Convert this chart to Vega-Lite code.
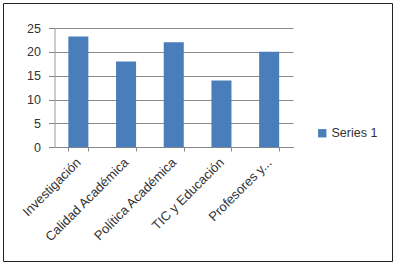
{
  "$schema": "https://vega.github.io/schema/vega-lite/v6.json",
  "width": 389,
  "height": 258,
  "autosize": {"type": "none"},
  "padding": {"left": 3, "top": 3, "right": 5, "bottom": 7},
  "background": "white",
  "config": {
    "view": {"stroke": "#222222", "strokeWidth": 1},
    "font": "Liberation Sans"
  },
  "data": {
    "values": [
      {"category": "Investigación", "value": 23.2, "series": "Series 1"},
      {"category": "Calidad Académica", "value": 18, "series": "Series 1"},
      {"category": "Política Académica", "value": 22, "series": "Series 1"},
      {"category": "TIC y Educación", "value": 14, "series": "Series 1"},
      {"category": "Profesores y...", "value": 20, "series": "Series 1"}
    ]
  },
  "mark": {"type": "bar"},
  "encoding": {
    "x": {
      "field": "category",
      "type": "nominal",
      "sort": null,
      "scale": {"range": [51.5, 290], "paddingInner": 0.58, "paddingOuter": 0.29},
      "axis": {
        "title": null,
        "offset": -114,
        "labelAngle": -45,
        "labelAlign": "right",
        "labelBaseline": "middle",
        "labelFontSize": 13,
        "labelColor": "#333333",
        "labelPadding": 9,
        "tickBand": "extent",
        "tickSize": 4,
        "tickColor": "#888888",
        "domainColor": "#888888",
        "grid": false
      }
    },
    "y": {
      "field": "value",
      "type": "quantitative",
      "scale": {"domain": [0, 25], "range": [144.3, 25], "nice": false},
      "axis": {
        "title": null,
        "offset": -51.5,
        "values": [0, 5, 10, 15, 20, 25],
        "labelFontSize": 12.5,
        "labelColor": "#333333",
        "labelPadding": 8,
        "tickSize": 6,
        "tickColor": "#888888",
        "domainColor": "#999999",
        "gridColor": "#8a8a8a",
        "gridOpacity": 1,
        "gridWidth": 1
      }
    },
    "color": {
      "field": "series",
      "type": "nominal",
      "scale": {"range": ["#4a7ebb"]},
      "legend": {
        "title": null,
        "orient": "none",
        "legendX": 313,
        "legendY": 124,
        "symbolType": "square",
        "symbolSize": 70,
        "symbolStrokeWidth": 0,
        "labelFontSize": 12.5,
        "labelColor": "#333333",
        "labelOffset": 3
      }
    }
  }
}
